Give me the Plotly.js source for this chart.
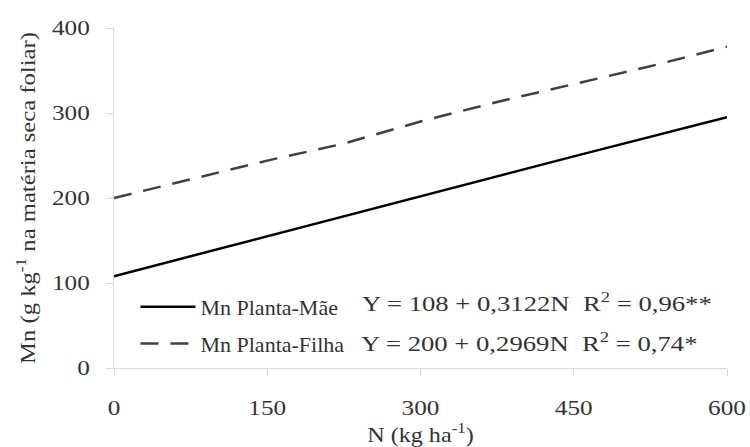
<!DOCTYPE html>
<html><head><meta charset="utf-8">
<script src="https://cdn.plot.ly/plotly-3.0.1.min.js"></script>
<style>body{margin:0;background:#fff}#c{width:750px;height:447px}</style>
</head><body><div id="c"></div>
<script>
const nDose = [0, 150, 300, 450, 600];
const mnMae = [108, 155, 202, 249, 295];
const nDoseFilha = [0, 75, 150, 225, 300, 375, 450, 525, 600];
const mnFilha = [200, 222, 244, 264, 290, 313, 334, 355, 378];
const xTicks = [0, 150, 300, 450, 600];
const yTicks = [0, 100, 200, 300, 400];
const eqMae = "Y = 108 + 0,3122N  R<sup>2</sup> = 0,96**";
const eqFilha = "Y = 200 + 0,2969N  R<sup>2</sup> = 0,74*";

function f(s) { return {family: "Liberation Serif", size: s, color: "#333"}; }
const traces = [
  {x: nDose, y: mnMae, mode: "lines", name: "Mn Planta-Mãe", legendgroup: "a",
   line: {color: "#000", width: 2.5}},
  {x: nDoseFilha, y: mnFilha, mode: "lines", name: "Mn Planta-Filha", legendgroup: "b",
   line: {color: "#404040", width: 2.5, dash: "18px,12px"}}
];
const lay = {
  width: 750, height: 447,
  font: f(21),
  margin: {l: 114, r: 23, t: 28, b: 79},
  showlegend: true,
  legend: {x: 0.035, y: (368-286)/340, xanchor: "left", yanchor: "top", font: f(22),
           itemwidth: 55, traceorder: "grouped", tracegroupgap: 5, bgcolor: "rgba(0,0,0,0)"},
  xaxis: {range: [0, 600], tickvals: xTicks, showgrid: false, zeroline: false,
          showline: true, linecolor: "#d9d9d9", linewidth: 1,
          ticks: "outside", ticklen: 7, tickcolor: "#d9d9d9",
          tickfont: f(21), ticklabelstandoff: 14,
          title: {text: "N (kg ha<sup>-1</sup>)", font: f(21), standoff: 2}},
  yaxis: {range: [0, 400], tickvals: yTicks, showgrid: false, zeroline: false,
          showline: true, linecolor: "#d9d9d9", linewidth: 1,
          ticks: "outside", ticklen: 7, tickcolor: "#d9d9d9",
          tickfont: f(21), ticklabelstandoff: 12,
          title: {text: "Mn (g kg<sup>-1</sup> na matéria seca foliar)", font: f(22), standoff: 16}},
  annotations: [
    {xref: "paper", yref: "paper", x: (360-114)/613, y: (368-302)/340, xanchor: "left", yanchor: "middle",
     align: "left", text: eqMae, showarrow: false, font: f(21)},
    {xref: "paper", yref: "paper", x: (359-114)/613, y: (368-342)/340, xanchor: "left", yanchor: "middle",
     align: "left", text: eqFilha, showarrow: false, font: f(21)}
  ]
};
// The reference's lettering is horizontally wide; widen glyphs to match.
function widen(){
  document.querySelectorAll("#c text").forEach(function(t){
    var cls = (t.getAttribute("class") || "") + " " +
      ((t.parentNode && t.parentNode.getAttribute && t.parentNode.getAttribute("class")) || "");
    var k = 1;
    if (/annotation-text/.test(cls)) k = 1.27;
    else if (/legendtext/.test(cls)) k = 1;
    else if (/ytitle/.test(cls)) k = 1.12;
    else if (/xtitle/.test(cls)) k = 1.15;
    else if (/tick/.test(cls)) k = 1.2;
    if (k === 1) return;
    try {
      var L = t.getComputedTextLength();
      if (L > 0) {
        t.setAttribute("textLength", (L * k).toFixed(1));
        t.setAttribute("lengthAdjust", "spacingAndGlyphs");
      }
    } catch (e) {}
  });
}
Plotly.newPlot("c", traces, lay, {displayModeBar: false, staticPlot: true}).then(widen);
</script></body></html>
